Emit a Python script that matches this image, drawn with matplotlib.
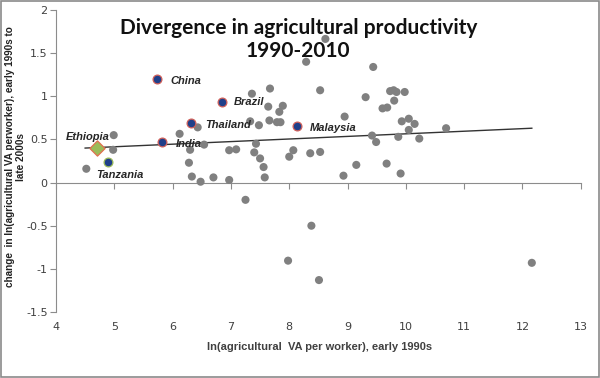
import matplotlib
matplotlib.use("Agg")
import matplotlib.pyplot as plt
from matplotlib.patches import Rectangle

# other countries (grey)
other_x = [4.52, 4.99, 4.98, 6.12, 6.43, 6.30, 6.28, 6.33, 6.48, 6.54, 6.70, 6.97, 7.09, 6.97,
           7.25, 7.33, 7.36, 7.48, 7.43, 7.40, 7.50, 7.56, 7.58, 7.67, 7.64, 7.89, 7.83, 7.66,
           7.79, 7.85, 8.00, 8.07, 8.29, 8.36, 8.53, 8.53, 8.62, 8.95, 8.93, 9.15, 9.31, 9.44,
           9.42, 9.49, 9.60, 9.68, 9.67, 9.73, 9.79, 9.84, 9.80, 9.87, 9.91, 9.93, 9.98, 10.05,
           10.05, 10.15, 10.23, 10.69, 7.98, 8.38, 8.51, 12.16]
other_y = [0.16, 0.55, 0.38, 0.565, 0.64, 0.38, 0.23, 0.07, 0.01, 0.44, 0.06, 0.375, 0.385, 0.03,
           -0.20, 0.71, 1.03, 0.665, 0.45, 0.35, 0.28, 0.18, 0.06, 1.09, 0.88, 0.89, 0.82, 0.72,
           0.70, 0.70, 0.30, 0.375, 1.40, 0.34, 0.355, 1.07, 1.665, 0.765, 0.08, 0.205, 0.99, 1.34,
           0.545, 0.47, 0.86, 0.87, 0.22, 1.06, 1.07, 1.05, 0.95, 0.53, 0.105, 0.71, 1.05, 0.74,
           0.61, 0.68, 0.51, 0.63, -0.905, -0.50, -1.13, -0.93]

# highlighted countries
hl_names = ["China", "Brazil", "Thailand", "India", "Malaysia"]
hl_x = [5.73, 6.84, 6.32, 5.81, 8.13]
hl_y = [1.205, 0.93, 0.695, 0.47, 0.65]

eth_x, eth_y = 4.71, 0.395
tza_x, tza_y = 4.89, 0.24

# linear trend
trend_x = [4.50, 12.16]
trend_y = [0.40, 0.63]

xticks = list(range(4, 14))
yticks = [-1.5, -1, -0.5, 0, 0.5, 1, 1.5, 2]
ytick_labels = ["-1.5", "-1", "-0.5", "0", "0.5", "1", "1.5", "2"]

axis_col = "#8c8c8c"
txt_col = "#404040"

fig = plt.figure(figsize=(6, 3.78), dpi=100)
ax = fig.add_axes([0.0933, 0.1746, 0.8747, 0.7989])

ax.plot(trend_x, trend_y, color="#333333", lw=1.0, zorder=2)
ax.scatter(other_x, other_y, s=34, color="#808080", edgecolors="none", zorder=3)
ax.scatter(hl_x, hl_y, s=40, color="#1f3f8a", edgecolors="#d0605a", linewidths=0.9, zorder=4)
ax.scatter([eth_x], [eth_y], s=60, marker="D", color="#9bbb59", edgecolors="#e07050",
           linewidths=0.9, zorder=4)
ax.scatter([tza_x], [tza_y], s=40, color="#1f3f8a", edgecolors="#9bbb59", linewidths=0.9, zorder=4)

lab_font = dict(fontsize=8, fontweight="bold", fontstyle="italic", color="#262626",
                family="Liberation Sans")
offsets = [(14, -2), (12, 0), (14, -2), (14, -2), (13, -2)]
for n, x, y, off in zip(hl_names, hl_x, hl_y, offsets):
    ax.annotate(n, (x, y), xytext=off, textcoords="offset pixels", ha="left", va="center",
                zorder=5, **lab_font)
ax.annotate("Ethiopia", (eth_x, eth_y), xytext=(-10, 11), textcoords="offset pixels",
            ha="center", va="center", zorder=5, **lab_font)
ax.annotate("Tanzania", (tza_x, tza_y), xytext=(12, -13), textcoords="offset pixels",
            ha="center", va="center", zorder=5, **lab_font)

ax.set_xlim(4, 13)
ax.set_ylim(-1.5, 2)

for s in ["top", "right"]:
    ax.spines[s].set_visible(False)
ax.spines["bottom"].set_position(("data", 0))
ax.spines["bottom"].set_color(axis_col)
ax.spines["left"].set_color(axis_col)

ax.set_xticks(xticks)
ax.tick_params(axis="x", direction="out", length=4, color=axis_col, labelbottom=False)
ax.set_yticks(yticks)
ax.set_yticklabels(ytick_labels)
ax.tick_params(axis="y", direction="out", length=4, color=axis_col, labelcolor=txt_col,
               labelsize=8, pad=2)

sec = ax.secondary_xaxis(-0.0)
sec.set_xticks(xticks)
sec.set_xticklabels([str(t) for t in xticks])
sec.spines["bottom"].set_visible(False)
sec.tick_params(length=0, labelsize=8, labelcolor=txt_col, pad=7)

fig.text(0.532, 0.082, "ln(agricultural  VA per worker), early 1990s", ha="center", va="center",
         fontsize=8, fontweight="bold", color=txt_col, family="Liberation Sans")
fig.text(0.026, 0.585, "change  in ln(agricultural VA perworker), early 1990s to\nlate 2000s",
         ha="center", va="center", rotation=90, fontsize=7.2, fontweight="bold",
         color="#222222", family="Liberation Sans", linespacing=1.15)

fig.text(0.497, 0.895, "Divergence in agricultural productivity\n1990-2010", ha="center",
         va="center", fontsize=15, color="#111111", family="Lato", fontweight="bold",
         linespacing=1.2)

fig.patches.append(Rectangle((0.001, 0.002), 0.997, 0.995, transform=fig.transFigure,
                             fill=False, edgecolor="#8a8a8a", lw=1.2))

fig.savefig("out.png", dpi=100)
